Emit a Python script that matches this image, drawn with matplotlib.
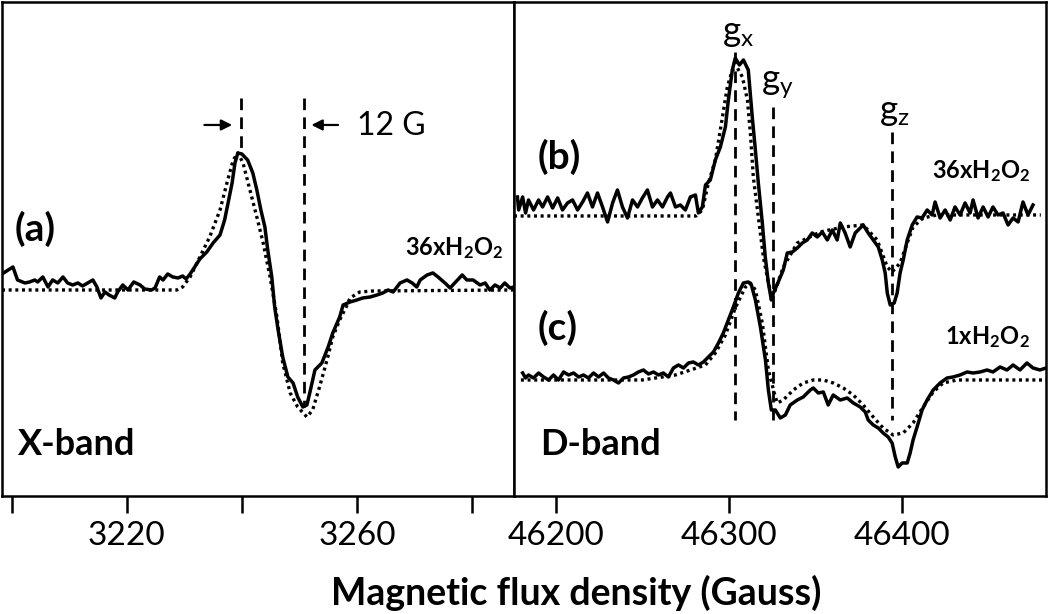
import matplotlib
matplotlib.use("Agg")
import matplotlib.pyplot as plt

plt.rcParams['font.family'] = ['Lato', 'DejaVu Sans']
plt.rcParams['mathtext.fontset'] = 'custom'
plt.rcParams['mathtext.rm'] = 'Lato'
plt.rcParams['mathtext.default'] = 'regular'

# ---- X-band (a): field (G) and signal (arb. units, baseline 0)
xband_field = [3198.3, 3200.2, 3201.0, 3202.3, 3203.1, 3204.0, 3204.5, 3205.4, 3206.3, 3207.1,
               3208.0, 3208.9, 3209.7, 3210.6, 3211.5, 3212.3, 3213.2, 3214.1, 3214.8, 3215.5,
               3216.2, 3216.9, 3217.9, 3218.4, 3219.3, 3220.2, 3221.2, 3222.3, 3223.1, 3224.3,
               3224.9, 3225.7, 3226.3, 3227.1, 3228.0, 3228.9, 3229.7, 3230.3, 3231.0, 3231.8,
               3232.7, 3233.9, 3235.0, 3236.2, 3237.0, 3237.6, 3238.3, 3238.8, 3239.3, 3240.0,
               3241.0, 3241.9, 3242.6, 3243.3, 3244.0, 3244.5, 3245.2, 3245.7, 3246.3, 3247.1,
               3248.0, 3248.9, 3249.7, 3250.6, 3251.3, 3251.8, 3252.7, 3253.9, 3255.0, 3255.8,
               3257.0, 3257.6, 3258.8, 3260.0, 3261.0, 3262.3, 3263.5, 3264.5, 3265.4, 3266.3,
               3267.5, 3268.7, 3269.6, 3270.4, 3271.0, 3272.2, 3273.2, 3274.1, 3275.3, 3276.2,
               3277.0, 3278.3, 3279.1, 3280.2, 3281.4, 3282.3, 3283.1, 3284.0, 3284.9, 3285.7,
               3286.6, 3287.3]
xband_exp = [16, 23, 10, 7, 8, 10, 8, 13, 3, 10,
             7, 13, 7, 5, 7, 4, 7, 10, 3, -8,
             -2, -5, -8, -2, 5, 0, 8, 5, 1, 0,
             2, 13, 10, 16, 13, 12, 14, 11, 16, 23,
             31, 38, 47, 55, 70, 87, 107, 127, 137, 136,
             130, 117, 100, 80, 63, 40, 13, -17, -40, -67,
             -87, -93, -107, -117, -115, -103, -80, -73, -57, -43,
             -27, -15, -12, -10, -8, -7, -5, -3, 0, -2,
             7, 10, 7, 3, 10, 15, 17, 13, 7, 2,
             7, 15, 10, 10, 5, 7, 0, 5, 2, 7,
             2, 3]
xband_sim_field = [3198.3, 3228.7, 3229.7, 3231.0, 3232.7, 3234.4, 3236.2, 3237.4, 3238.5, 3239.3,
                   3240.2, 3241.4, 3242.6, 3243.7, 3244.9, 3246.1, 3247.1, 3248.4, 3249.7, 3251.3,
                   3252.3, 3253.5, 3254.8, 3255.8, 3257.0, 3258.3, 3258.8, 3260.5, 3262.8, 3287.3]
xband_sim = [0, 0, 3, 13, 33, 53, 80, 107, 130, 137,
             127, 100, 73, 47, 13, -27, -73, -103, -117, -127,
             -120, -97, -70, -47, -30, -15, -8, -2, -1, 0]

# ---- D-band (b) 36xH2O2
db_field = [46178.0, 46178.7, 46181.0, 46182.7, 46184.4, 46187.3, 46190.2, 46192.5, 46195.4, 46198.3,
            46201.2, 46204.0, 46206.9, 46209.8, 46212.7, 46215.6, 46218.4, 46221.3, 46224.2, 46227.1,
            46230.0, 46232.9, 46235.7, 46238.6, 46241.5, 46244.4, 46247.3, 46250.1, 46253.0, 46255.9,
            46258.8, 46261.7, 46264.6, 46266.3, 46269.2, 46272.0, 46274.9, 46277.8, 46280.7, 46282.4,
            46284.7, 46286.5, 46289.3, 46292.2, 46295.1, 46298.0, 46299.7, 46302.0, 46303.7, 46306.1,
            46308.4, 46311.2, 46313.5, 46315.3, 46317.0, 46319.3, 46321.0, 46322.8, 46324.5, 46325.7,
            46328.5, 46331.4, 46333.7, 46336.6, 46339.5, 46342.4, 46345.2, 46348.1, 46351.0, 46353.9,
            46356.8, 46359.7, 46362.5, 46364.3, 46367.1, 46370.0, 46372.9, 46375.8, 46377.5, 46380.4,
            46383.3, 46386.2, 46388.5, 46390.2, 46391.4, 46393.1, 46395.4, 46397.1, 46398.8, 46400.6,
            46402.9, 46405.8, 46408.6, 46411.5, 46414.4, 46417.3, 46419.0, 46421.9, 46424.8, 46427.7,
            46430.5, 46433.4, 46436.3, 46439.2, 46440.9, 46443.8, 46446.7, 46449.6, 46452.4, 46455.3,
            46458.2, 46461.1, 46464.0, 46466.9, 46469.7, 46472.6, 46475.5]
db_exp = [19, 6, 19, 3, 16, 6, 16, 9, 19, 8,
          18, 6, 13, 16, 6, 14, 23, 9, 23, 9,
          -6, 13, 26, 9, -2, 16, 9, 18, 26, 9,
          16, 9, 19, 23, 9, 11, 6, 19, 21, 3,
          9, 31, 36, 56, 69, 89, 116, 146, 158, 151,
          156, 146, 99, 66, 33, -7, -41, -67, -84, -77,
          -66, -54, -37, -36, -32, -27, -24, -17, -21, -16,
          -24, -14, -24, -7, -17, -31, -17, -12, -9, -17,
          -24, -31, -44, -57, -77, -89, -87, -77, -57, -44,
          -24, -9, -1, -2, 6, 1, 14, -2, 6, -4,
          9, 1, 13, 3, 16, -2, 9, -1, 9, 1,
          3, -9, -2, -6, 14, 1, 11]
db_sim_field = [46176.0, 46281.0, 46284.7, 46288.2, 46292.2, 46296.3, 46299.1, 46302.0, 46304.9, 46307.8,
                46310.7, 46312.4, 46314.1, 46317.0, 46319.9, 46322.8, 46325.1, 46326.8, 46331.4, 46339.5,
                46352.7, 46366.0, 46377.5, 46385.6, 46391.4, 46394.2, 46398.8, 46402.9, 46406.3, 46412.1,
                46420.0, 46480.0]
db_sim = [0, 0, 6, 33, 56, 99, 129, 146, 148, 139,
          116, 83, 39, -1, -41, -67, -82, -74, -51, -27,
          -16, -11, -9, -24, -51, -56, -47, -27, -11, -2,
          1, 1]

# ---- D-band (c) 1xH2O2
dc_field = [46181.0, 46182.7, 46184.4, 46187.3, 46190.2, 46193.1, 46196.0, 46198.8, 46201.7, 46204.6,
            46207.5, 46210.4, 46213.3, 46216.1, 46219.0, 46221.9, 46224.8, 46227.7, 46230.5, 46233.4,
            46236.3, 46239.2, 46242.1, 46244.9, 46247.8, 46250.7, 46253.6, 46256.5, 46259.4, 46262.2,
            46265.1, 46268.0, 46270.9, 46273.8, 46276.7, 46279.5, 46282.4, 46285.3, 46288.2, 46291.1,
            46294.0, 46296.8, 46299.7, 46302.6, 46305.5, 46308.4, 46311.2, 46313.0, 46315.3, 46318.2,
            46321.1, 46322.8, 46324.5, 46326.8, 46329.7, 46332.6, 46335.4, 46339.5, 46342.9, 46347.0,
            46348.7, 46351.6, 46354.5, 46357.3, 46360.2, 46364.3, 46368.3, 46371.8, 46375.8, 46378.7,
            46380.4, 46383.3, 46386.2, 46389.0, 46391.9, 46394.2, 46396.0, 46397.7, 46400.0, 46402.9,
            46404.6, 46406.3, 46408.6, 46411.5, 46414.4, 46417.9, 46421.9, 46425.9, 46429.4, 46433.4,
            46437.5, 46440.9, 46445.0, 46449.0, 46452.4, 46456.5, 46460.5, 46464.0, 46468.0, 46472.0,
            46475.5, 46479.5, 46483.0]
dc_exp = [7, 2, 5, 2, 7, 3, 0, 5, 0, 8,
          5, 7, 3, 5, 2, 7, 3, 7, 2, 0,
          -3, 2, 3, 5, 8, 10, 6, 8, 5, 7,
          3, 12, 15, 12, 17, 18, 15, 18, 23, 28,
          37, 47, 60, 73, 87, 97, 98, 95, 80, 53,
          20, -10, -30, -30, -38, -35, -25, -20, -17, -10,
          -8, -13, -12, -25, -15, -20, -18, -23, -27, -32,
          -40, -45, -48, -53, -57, -63, -77, -87, -83, -83,
          -73, -60, -47, -30, -20, -10, -3, 2, 3, 5,
          8, 7, 8, 10, 8, 13, 10, 15, 10, 17,
          12, 10, 12]
dc_sim_field = [46180.0, 46250.0, 46269.2, 46286.5, 46292.2, 46298.0, 46303.7, 46309.5, 46312.4, 46315.3,
                46319.3, 46322.8, 46326.8, 46328.0, 46331.4, 46337.2, 46342.9, 46348.7, 46354.5, 46360.2,
                46366.0, 46371.8, 46377.5, 46383.3, 46389.0, 46394.8, 46400.6, 46406.3, 46412.1, 46417.9,
                46423.6, 46431.7, 46483.0]
dc_sim = [0, 0, 5, 15, 27, 45, 72, 93, 97, 90,
          57, 10, -17, -23, -20, -10, -3, 0, 0, -3,
          -8, -15, -25, -37, -48, -55, -53, -43, -27, -12,
          -3, 0, 0]

b_offset = 164  # vertical shift of trace (b) above trace (c)

# g-tensor marker positions (G)
g_x, g_y, g_z = 46303.7, 46325.7, 46394.2
xband_marks = [3239.8, 3250.8]

fig = plt.figure(figsize=(10.5, 6.14), dpi=100)
axL = fig.add_axes([0.0019, 0.1922, 0.4876, 0.8046])
axR = fig.add_axes([0.4895, 0.1922, 0.5067, 0.8046])

solid = dict(color='black', lw=2.5, solid_joinstyle='round')
dotted = dict(color='black', lw=2.4, dashes=(0.9, 1.1), dash_capstyle='butt')
dashed = dict(color='black', lw=2.0, dashes=(4.2, 2.6))

# left panel
axL.plot(xband_sim_field, xband_sim, **dotted)
axL.plot(xband_field, xband_exp, **solid)
axL.plot([xband_marks[0]] * 2, [192, 142], **dashed)
axL.plot([xband_marks[1]] * 2, [192, -117], **dashed)
axL.annotate('', xy=(3238.8, 165), xytext=(3233.0, 165),
             arrowprops=dict(arrowstyle='-|>', color='black', lw=1.6, mutation_scale=16))
axL.annotate('', xy=(3251.6, 165), xytext=(3257.2, 165),
             arrowprops=dict(arrowstyle='-|>', color='black', lw=1.6, mutation_scale=16))
axL.text(3260.0, 164, '12 G', fontsize=23, va='center', ha='left')
axL.text(3268.3, 35, '36xH$_2$O$_2$', fontsize=17, fontweight='bold', va='baseline')
axL.text(0.025, 0.54, '(a)', transform=axL.transAxes, fontsize=28, fontweight='bold', va='center')
axL.text(0.031, 0.083, 'X-band', transform=axL.transAxes, fontsize=26, fontweight='bold', va='baseline')
axL.set_xlim(3198.3, 3287.3)
axL.set_ylim(-206, 288)
axL.set_xticks([3200, 3220, 3240, 3260, 3280])
axL.set_xticklabels(['', '3220', '', '3260', ''])

# right panel
b_exp = [v + b_offset for v in db_exp]
b_sim = [v + b_offset for v in db_sim]
axR.plot(db_sim_field, b_sim, **dotted)
axR.plot(db_field, b_exp, **solid)
axR.plot(dc_sim_field, dc_sim, **dotted)
axR.plot(dc_field, dc_exp, **solid)
axR.plot([g_x] * 2, [328, -40], **dashed)
axR.plot([g_y] * 2, [273, -40], **dashed)
axR.plot([g_z] * 2, [248, -40], **dashed)
axR.text(g_x + 1.5, 331, 'g$_x$', fontsize=25, ha='center', va='bottom')
axR.text(g_y + 2, 279, 'g$_y$', fontsize=25, ha='center', va='bottom')
axR.text(g_z + 1.5, 252, 'g$_z$', fontsize=25, ha='center', va='bottom')
axR.text(46417.3, 202, '36xH$_2$O$_2$', fontsize=17, fontweight='bold', va='baseline')
axR.text(46424.8, 36, '1xH$_2$O$_2$', fontsize=17, fontweight='bold', va='baseline')
axR.text(0.045, 0.686, '(b)', transform=axR.transAxes, fontsize=28, fontweight='bold', va='center')
axR.text(0.045, 0.340, '(c)', transform=axR.transAxes, fontsize=28, fontweight='bold', va='center')
axR.text(0.049, 0.083, 'D-band', transform=axR.transAxes, fontsize=26, fontweight='bold', va='baseline')
axR.set_xlim(46176, 46483)
axR.set_ylim(-116, 378)
axR.set_xticks([46200, 46300, 46400])
axR.set_xticklabels(['46200', '46300', '46400'])

for ax in (axL, axR):
    ax.set_yticks([])
    for s in ax.spines.values():
        s.set_linewidth(1.8)
    ax.tick_params(axis='x', direction='out', length=12, width=1.8, pad=6, labelsize=24)

fig.text(0.549, 0.015, 'Magnetic flux density (Gauss)', fontsize=27, fontweight='bold',
         ha='center', va='baseline')

fig.savefig('out.png', dpi=100)
